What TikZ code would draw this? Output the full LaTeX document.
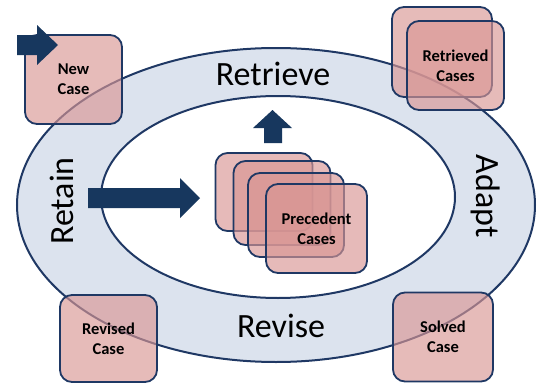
\documentclass[tikz,border=0pt]{standalone}
\usepackage{fontspec}
\setmainfont{Carlito}
\definecolor{ringfill}{RGB}{220,227,238}
\definecolor{navy}{RGB}{31,56,100}
\definecolor{arrowblue}{RGB}{23,55,94}
\definecolor{casepink}{RGB}{217,150,148}
\tikzset{
  ring/.style={draw=navy, line width=2pt},
  casebox/.style={draw=navy, line width=1.8pt, fill=casepink, fill opacity=0.65,
    text opacity=1, rounded corners=12pt, inner sep=0pt, align=center,
    font=\bfseries\fontsize{16.5}{20}\selectfont},
  stagelabel/.style={font=\fontsize{34}{38}\selectfont, inner sep=0pt},
  blockarrow/.style={fill=arrowblue, draw=none},
}
\begin{document}
\begin{tikzpicture}[x=1pt,y=-1pt]
\useasboundingbox (0,0) rectangle (558,383);
% cycle ellipses
\coordinate (c) at (276,205);
\fill[ringfill] (c) ellipse [x radius=259, y radius=157];
\draw[ring] (c) ellipse [x radius=259, y radius=157];
\fill[white] (278,197) ellipse [x radius=177, y radius=101];
\draw[ring] (278,197) ellipse [x radius=177, y radius=101];
% stage labels
\node[stagelabel] (retrieve) at (273,74) {Retrieve};
\node[stagelabel] (revise) at (281,326) {Revise};
\node[stagelabel, rotate=90] (retain) at (62,201) {Retain};
\node[stagelabel, rotate=-90] (adapt) at (486,196) {Adapt};
% block arrows
\fill[blockarrow] (88,188) -- (180,188) -- (180,178) -- (200,198) -- (180,218) -- (180,208) -- (88,208) -- cycle;
\fill[blockarrow] (264,143) -- (264,128) -- (253,128) -- (272.5,110) -- (292,128) -- (282,128) -- (282,143) -- cycle;
% case boxes
\node[casebox, minimum width=97pt, minimum height=89pt] (newcase) at (73.5,79.5) {New\\Case};
\node[casebox, minimum width=100pt, minimum height=90pt] (retrback) at (442,52) {};
\node[casebox, minimum width=97pt, minimum height=89pt] (retrieved) at (455.5,65.5) {Retrieved\\Cases};
\node[casebox, minimum width=97pt, minimum height=87pt] (revised) at (108.5,338.5) {Revised\\Case};
\node[casebox, minimum width=100pt, minimum height=89pt] (solved) at (443,337) {Solved\\Case};
% precedent stack
\node[casebox, minimum width=97pt, minimum height=78pt] (prec1) at (264,192) {};
\node[casebox, minimum width=97pt, minimum height=84pt] (prec2) at (282,203) {};
\node[casebox, minimum width=96pt, minimum height=84pt] (prec3) at (296,215) {};
\node[casebox, minimum width=101pt, minimum height=89pt] (precedent) at (316.5,228.5) {Precedent\\Cases};
% incoming arrow over the new case box
\fill[blockarrow] (17,35) -- (37,35) -- (37,25) -- (58,45) -- (37,65) -- (37,55) -- (17,55) -- cycle;
\end{tikzpicture}
\end{document}
